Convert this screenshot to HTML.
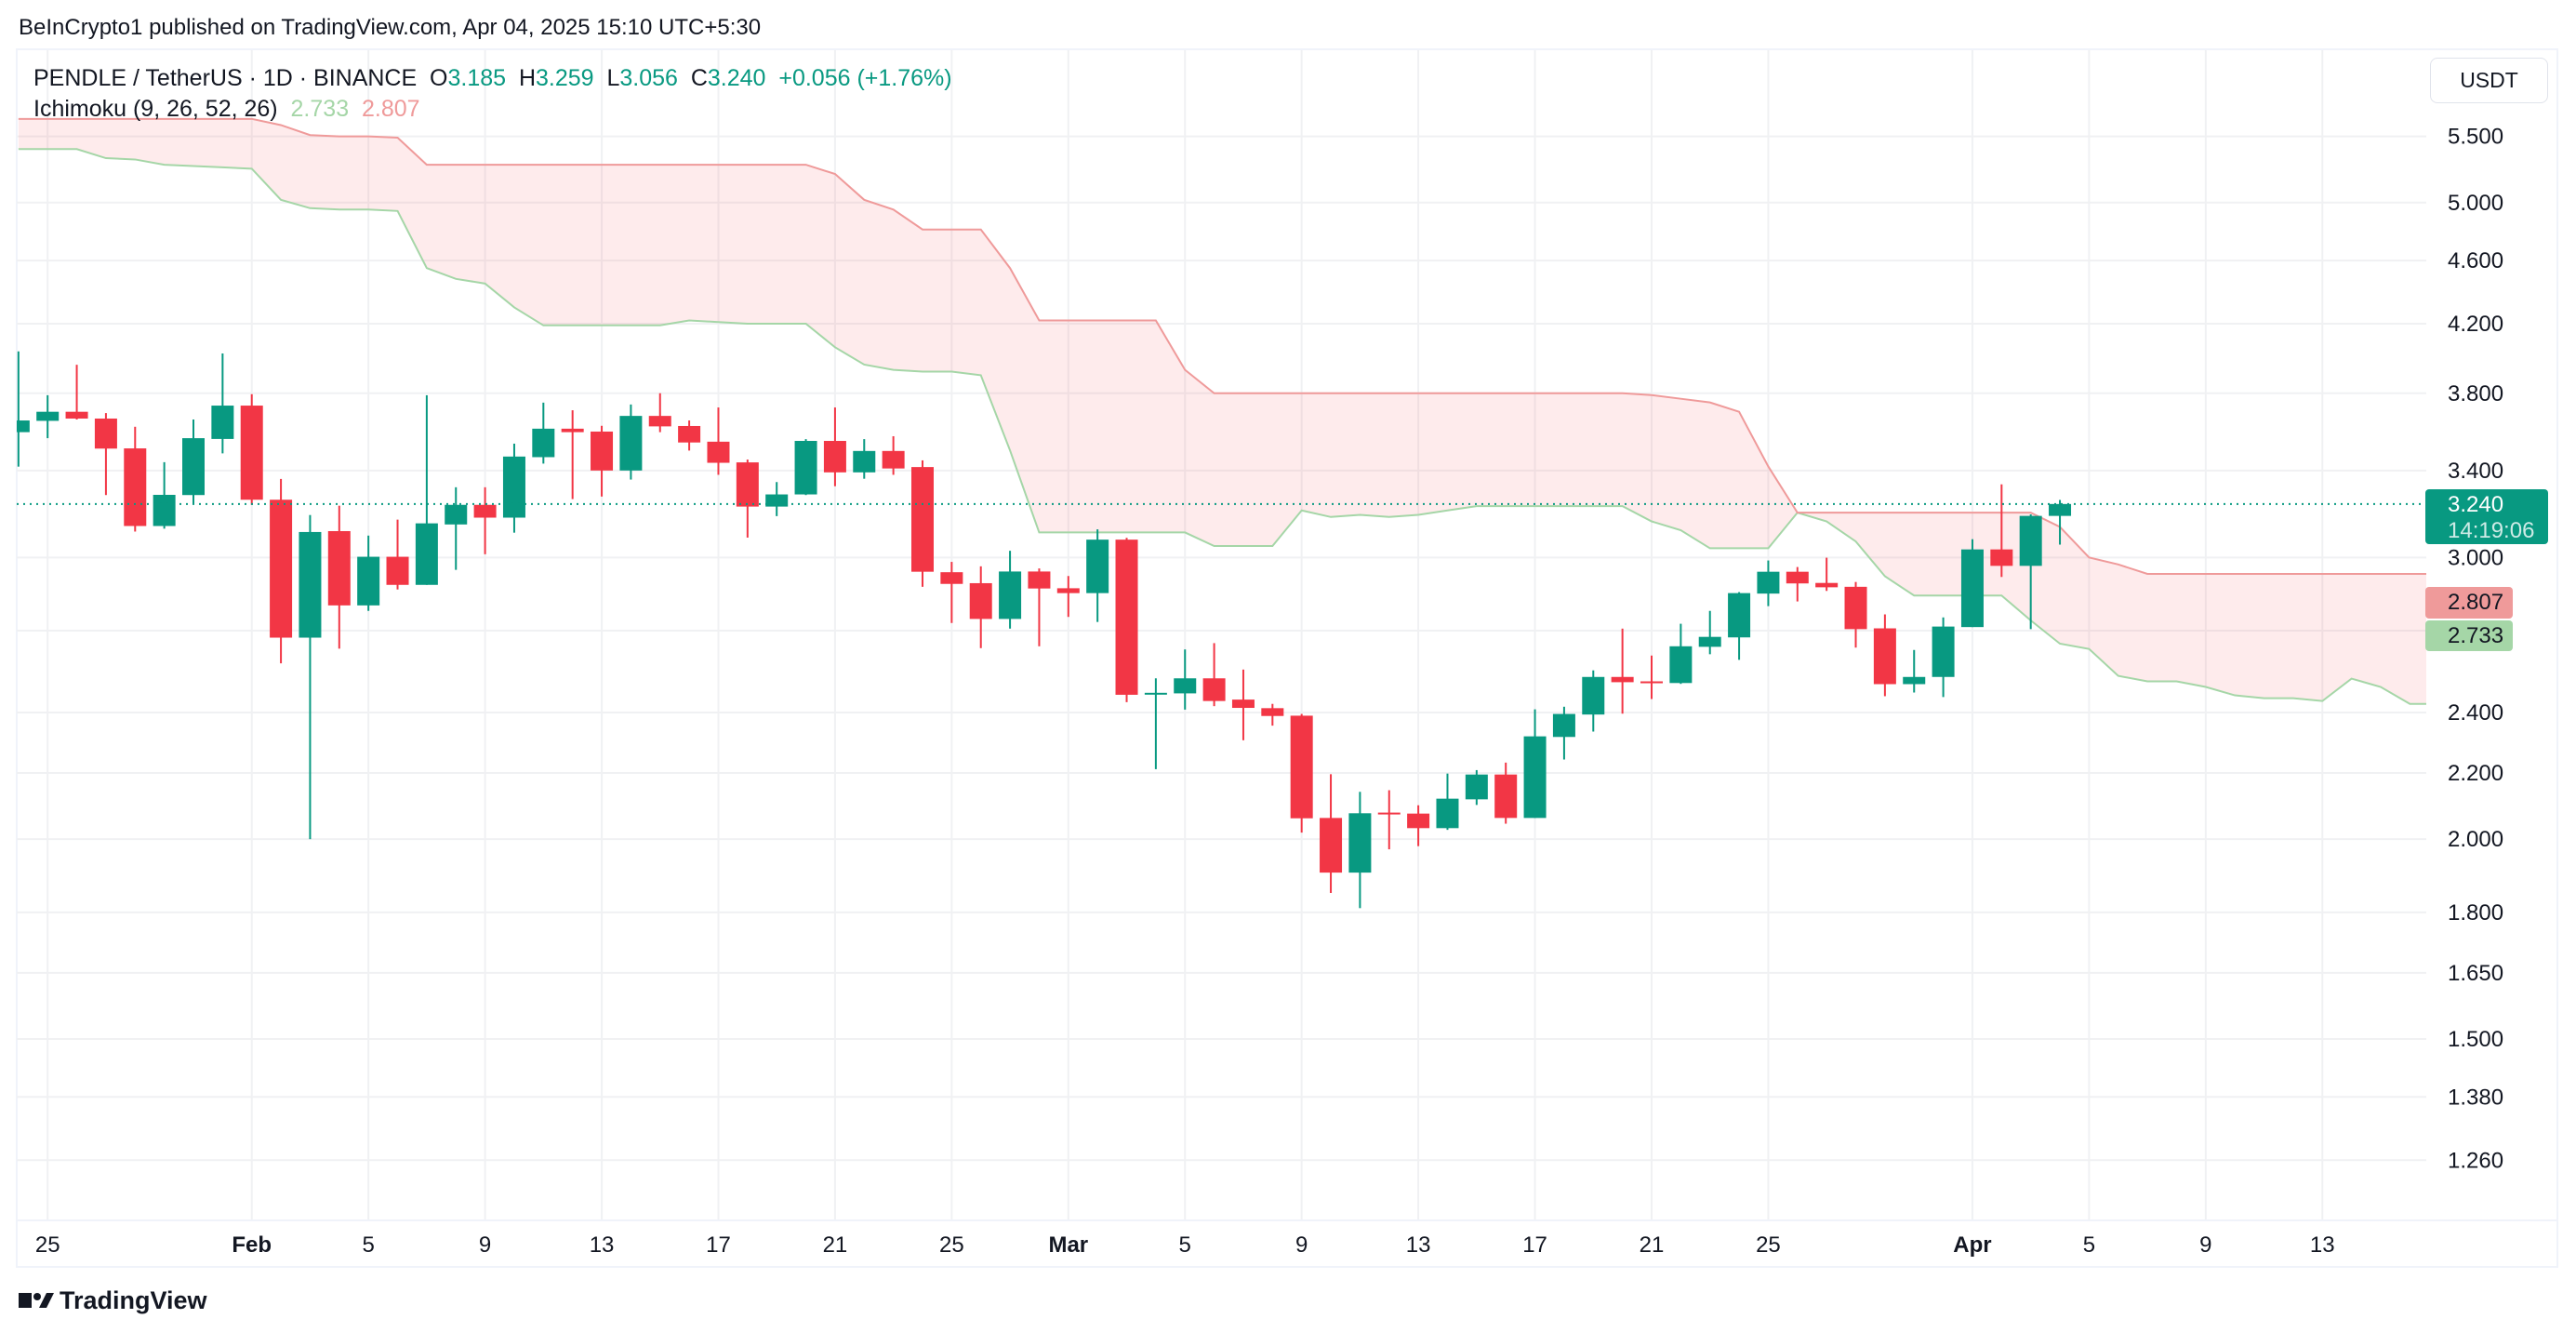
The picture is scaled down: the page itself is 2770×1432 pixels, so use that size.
<!DOCTYPE html>
<html><head><meta charset="utf-8">
<style>
html,body{margin:0;padding:0;background:#fff;}
body{width:2770px;height:1432px;overflow:hidden;position:relative;font-family:"Liberation Sans",sans-serif;color:#131722;}
.t{position:absolute;white-space:nowrap;}
</style></head>
<body>
<div class="t" style="left:20px;top:16px;font-size:24px;">BeInCrypto1 published on TradingView.com, Apr 04, 2025 15:10 UTC+5:30</div>
<svg id="chart" width="2770" height="1432" style="position:absolute;left:0;top:0" xmlns="http://www.w3.org/2000/svg"></svg>
<div class="t" style="left:36px;top:70px;font-size:25px;">PENDLE / TetherUS · 1D · BINANCE&nbsp; O<span style="color:#089981">3.185</span>&nbsp; H<span style="color:#089981">3.259</span>&nbsp; L<span style="color:#089981">3.056</span>&nbsp; C<span style="color:#089981">3.240</span>&nbsp; <span style="color:#089981">+0.056 (+1.76%)</span></div>
<div class="t" style="left:36px;top:103px;font-size:25px;">Ichimoku (9, 26, 52, 26)&nbsp; <span style="color:#A5D6A7">2.733</span>&nbsp; <span style="color:#EF9A9A">2.807</span></div>
<div class="t" style="left:2613px;top:62px;width:127px;height:49px;border:1px solid #E0E3EB;border-radius:8px;box-sizing:border-box;text-align:center;line-height:47px;font-size:23px;">USDT</div>
<div class="t" style="left:20px;top:1383px;font-size:27px;font-weight:bold;">
<svg width="38" height="22" style="vertical-align:-2px;margin-right:6px"><rect x="0" y="3" width="14" height="16" fill="#131722"/><circle cx="20" cy="7" r="4" fill="#131722"/><polygon points="22,19 30,3 38,3 30,19" fill="#131722"/></svg>TradingView</div>
<script>
const priceTicks=[5.5,5.0,4.6,4.2,3.8,3.4,3.0,2.7,2.4,2.2,2.0,1.8,1.65,1.5,1.38,1.26];
const priceTickLabels=["5.500","5.000","4.600","4.200","3.800","3.400","3.000","","2.400","2.200","2.000","1.800","1.650","1.500","1.380","1.260"];
const dateTickIdx=[0,7,11,15,19,23,27,31,35,39,43,47,51,55,59,66,70,74,78];
const dateTickLabels=["25","Feb","5","9","13","17","21","25","Mar","5","9","13","17","21","25","Apr","5","9","13"];
const firstIdx=-1;
const opens=[3.593,3.652,3.700,3.664,3.510,3.139,3.282,3.558,3.733,3.260,2.673,3.116,2.800,3.003,2.884,3.146,3.236,3.177,3.466,3.611,3.596,3.400,3.678,3.625,3.544,3.440,3.228,3.285,3.548,3.391,3.497,3.417,2.937,2.891,2.746,2.940,2.870,2.850,3.078,2.466,2.467,2.521,2.445,2.415,2.389,2.062,1.906,2.078,2.075,2.032,2.118,2.195,2.062,2.317,2.393,2.526,2.510,2.504,2.638,2.674,2.848,2.939,2.892,2.876,2.709,2.500,2.526,2.714,3.035,2.964,3.185];
const highs=[4.036,3.789,3.959,3.693,3.621,3.441,3.659,4.024,3.795,3.359,3.189,3.232,3.096,3.168,3.789,3.319,3.319,3.534,3.749,3.708,3.626,3.739,3.800,3.654,3.723,3.454,3.344,3.557,3.723,3.557,3.572,3.450,2.981,2.962,3.029,2.953,2.921,3.124,3.086,2.521,2.628,2.652,2.553,2.430,2.395,2.196,2.141,2.146,2.100,2.198,2.209,2.233,2.411,2.420,2.550,2.708,2.605,2.727,2.778,2.854,2.987,2.959,2.999,2.896,2.764,2.626,2.752,3.080,3.333,3.192,3.259];
const lows=[3.419,3.562,3.659,3.282,3.114,3.127,3.237,3.485,3.236,2.576,2.000,2.631,2.778,2.865,2.884,2.947,3.014,3.109,3.434,3.263,3.275,3.356,3.593,3.499,3.379,3.087,3.184,3.282,3.324,3.360,3.379,2.876,2.730,2.633,2.708,2.640,2.754,2.734,2.436,2.212,2.410,2.422,2.306,2.355,2.019,1.851,1.811,1.971,1.980,2.027,2.101,2.045,2.062,2.243,2.335,2.396,2.447,2.501,2.610,2.589,2.797,2.816,2.859,2.635,2.457,2.470,2.454,2.714,2.917,2.706,3.056];
const closes=[3.654,3.700,3.664,3.509,3.139,3.283,3.562,3.733,3.260,2.673,3.112,2.800,3.003,2.884,3.151,3.236,3.177,3.469,3.611,3.593,3.400,3.678,3.623,3.540,3.438,3.228,3.285,3.548,3.391,3.497,3.410,2.939,2.888,2.746,2.940,2.869,2.850,3.078,2.462,2.469,2.521,2.440,2.416,2.388,2.061,1.906,2.076,2.074,2.032,2.120,2.195,2.062,2.319,2.395,2.526,2.507,2.505,2.640,2.676,2.850,2.939,2.890,2.874,2.706,2.500,2.526,2.716,3.035,2.964,3.185,3.240];
const spanA=[5.40,5.40,5.40,5.33,5.32,5.28,5.27,5.26,5.25,5.02,4.96,4.95,4.95,4.94,4.55,4.48,4.45,4.30,4.19,4.19,4.19,4.19,4.19,4.22,4.21,4.20,4.20,4.20,4.06,3.96,3.93,3.92,3.92,3.90,3.50,3.11,3.11,3.11,3.11,3.11,3.11,3.05,3.05,3.05,3.21,3.18,3.19,3.18,3.19,3.21,3.23,3.23,3.23,3.23,3.23,3.23,3.16,3.12,3.04,3.04,3.04,3.20,3.16,3.07,2.92,2.84,2.84,2.84,2.84,2.74,2.65,2.63,2.53,2.51,2.51,2.49,2.46,2.45,2.45,2.44,2.52,2.49,2.43,2.43];
const spanB=[5.64,5.64,5.64,5.64,5.64,5.64,5.64,5.64,5.64,5.59,5.51,5.50,5.50,5.49,5.28,5.28,5.28,5.28,5.28,5.28,5.28,5.28,5.28,5.28,5.28,5.28,5.28,5.28,5.21,5.02,4.95,4.81,4.81,4.81,4.55,4.22,4.22,4.22,4.22,4.22,3.93,3.80,3.80,3.80,3.80,3.80,3.80,3.80,3.80,3.80,3.80,3.80,3.80,3.80,3.80,3.80,3.79,3.77,3.75,3.70,3.42,3.20,3.20,3.20,3.20,3.20,3.20,3.20,3.20,3.20,3.135,3.00,2.97,2.93,2.93,2.93,2.93,2.93,2.93,2.93,2.93,2.93,2.93,2.93];
const lastPrice=3.240;
const spanALast=2.733, spanBLast=2.807;

const NS="http://www.w3.org/2000/svg";
const svg=document.getElementById('chart');
const PL=18,PR=2609,PT=54,PB=1312;
function yOf(p){return 146.6+(Math.log(5.5)-Math.log(p))*746.9;}
function xOf(i){return 51.2+i*31.36;}
function mk(tag,attrs,parent){const e=document.createElementNS(NS,tag);for(const k in attrs)e.setAttribute(k,attrs[k]);(parent||svg).appendChild(e);return e;}

let fr=mk('rect',{x:18,y:53,width:2732,height:1309,fill:'none',stroke:'#F0F3FA','stroke-width':2});



const defs=mk('defs',{});
const cp=mk('clipPath',{id:'plotclip'},defs);
mk('rect',{x:PL,y:PT,width:PR-PL,height:PB-PT},cp);

const grid=mk('g',{});


priceTicks.forEach((p,k)=>{
  const y=yOf(p);
  const l=mk('line',{x1:PL,x2:PR,y1:y,y2:y,stroke:'#F0F1F3','stroke-width':2},grid);
  
  
  if(priceTickLabels[k]){
    const t=mk('text',{x:2632,y:y+8,'font-size':24,fill:'#131722','font-family':'Liberation Sans, sans-serif'});
    t.textContent=priceTickLabels[k];
    
    
  }
});
dateTickIdx.forEach((i,k)=>{
  const x=xOf(i);
  const l=mk('line',{x1:x,x2:x,y1:PT,y2:PB,stroke:'#F0F1F3','stroke-width':2},grid);
  
  
  const bold=isNaN(+dateTickLabels[k]);
  const t=mk('text',{x:x,y:1346,'font-size':24,'text-anchor':'middle',fill:'#131722','font-weight':bold?'bold':'normal','font-family':'Liberation Sans, sans-serif'});
  t.textContent=dateTickLabels[k];
  
  
});
let sep=mk('line',{x1:PL,x2:2750,y1:PB,y2:PB,stroke:'#F0F3FA','stroke-width':2});



const cg=mk('g',{'clip-path':'url(#plotclip)'});


let ptsA=spanA.map((v,k)=>[xOf(k+firstIdx),yOf(v)]);
let ptsB=spanB.map((v,k)=>[xOf(k+firstIdx),yOf(v)]);
const fillPts=ptsB.concat(ptsA.slice().reverse()).map(p=>p.join(',')).join(' ');
let fill=mk('polygon',{points:fillPts,fill:'rgba(242,54,69,0.1)'},cg);


let la=mk('polyline',{points:ptsA.map(p=>p.join(',')).join(' '),fill:'none',stroke:'#A5D6A7','stroke-width':2},cg);


let lb=mk('polyline',{points:ptsB.map(p=>p.join(',')).join(' '),fill:'none',stroke:'#EF9A9A','stroke-width':2},cg);



const kg=mk('g',{'clip-path':'url(#plotclip)'});


opens.forEach((o,k)=>{
  const c=closes[k],h=highs[k],lo=lows[k];
  const x=xOf(k+firstIdx);
  const col=c>=o?'#089981':'#F23645';
  const g=mk('g',{},kg);
  
  
  mk('rect',{x:x-1,y:yOf(h),width:2,height:Math.max(1,yOf(lo)-yOf(h)),fill:col},g);
  const top=yOf(Math.max(o,c)),bot=yOf(Math.min(o,c));
  mk('rect',{x:x-12,y:top,width:24,height:Math.max(2,bot-top),fill:col},g);
});

const ly=yOf(lastPrice);
let pl=mk('line',{x1:PL,x2:PR,y1:ly,y2:ly,stroke:'#089981','stroke-width':2,'stroke-dasharray':'2,5'});



function badge(name,y,h,w,bg,lines,color){
  const g=mk('g',{});
  
  
  mk('rect',{x:2608,y:y,width:w,height:h,rx:4,fill:bg},g);
  lines.forEach((s,k)=>{
    const t=mk('text',{x:2632,y:y+24+k*28,'font-size':24,fill:k?'rgba(255,255,255,0.8)':color,'font-family':'Liberation Sans, sans-serif'},g);
    t.textContent=s;
  });
}
badge('last-price-badge',526,59,132,'#089981',[lastPrice.toFixed(3),'14:19:06'],'#ffffff');
badge('span-b-badge',631,34,94,'#EF9A9A',[spanBLast.toFixed(3)],'#131722');
badge('span-a-badge',667,33,94,'#A5D6A7',[spanALast.toFixed(3)],'#131722');
</script>
</body></html>
